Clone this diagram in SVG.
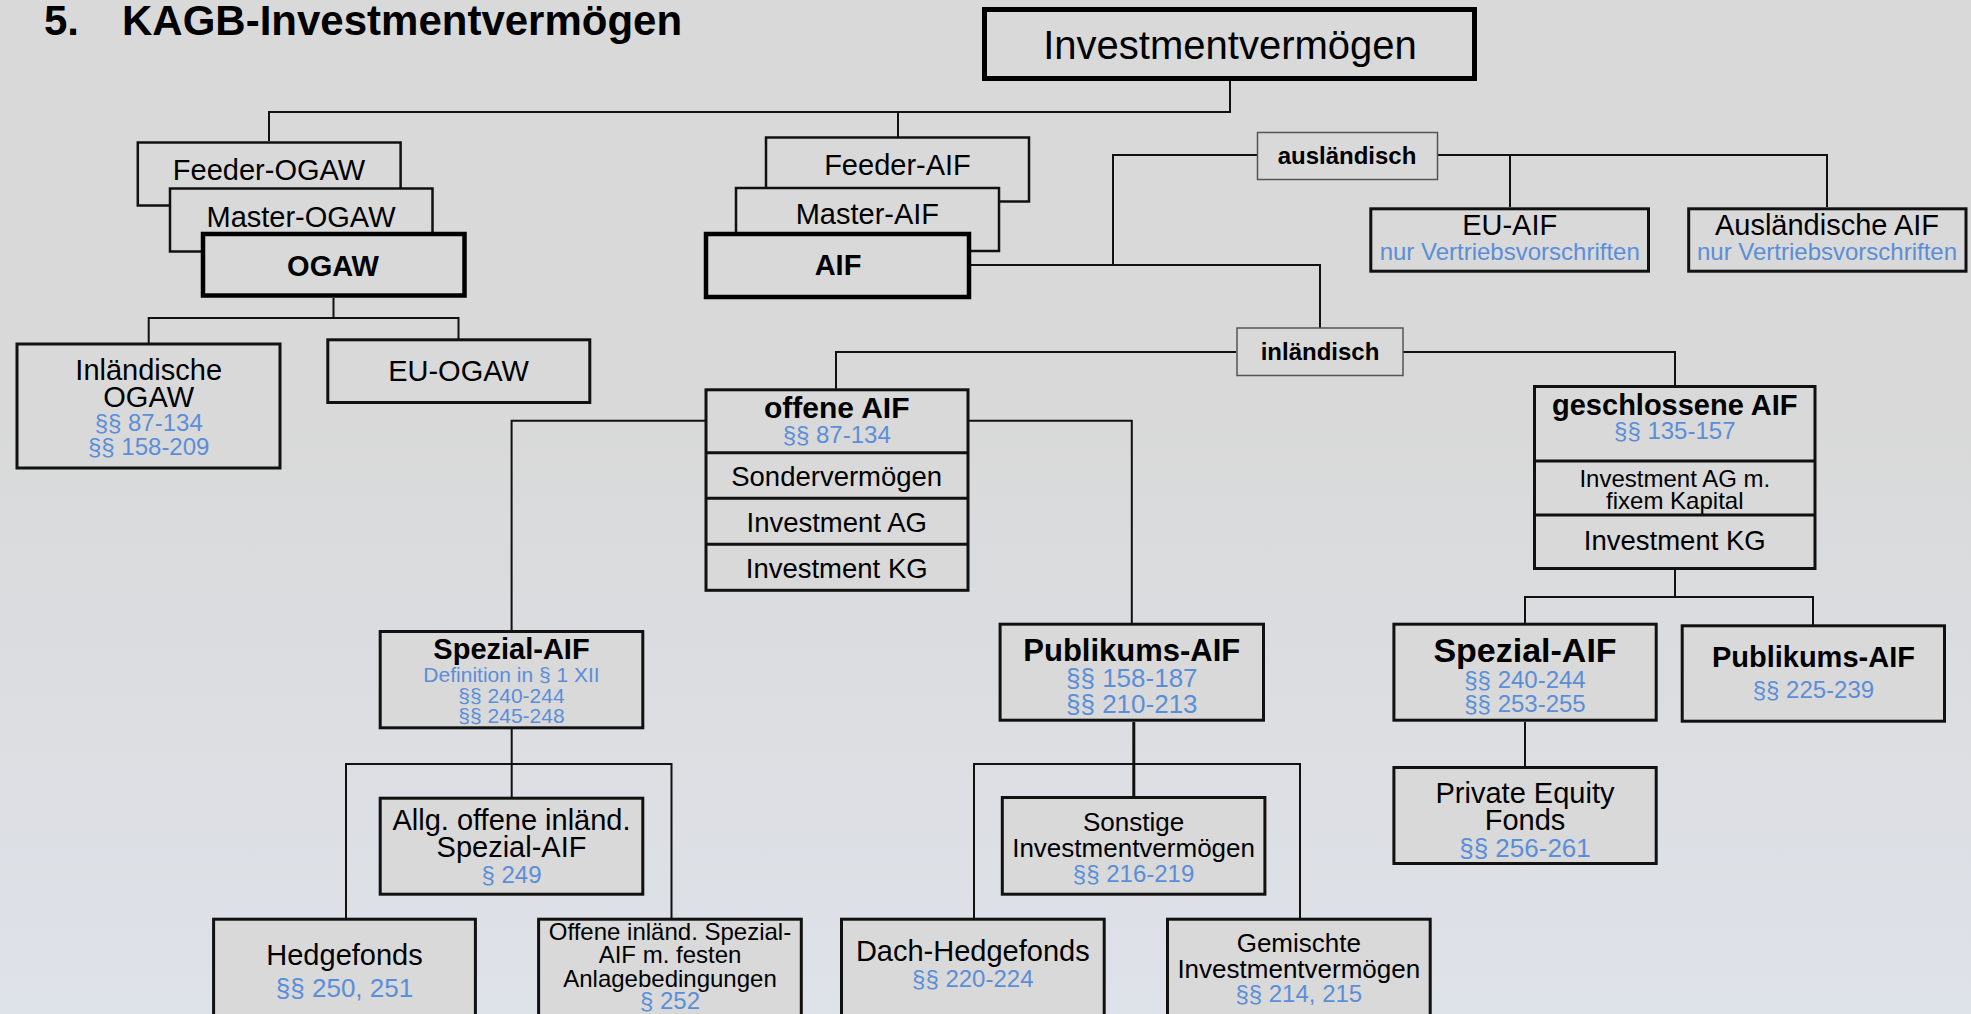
<svg xmlns="http://www.w3.org/2000/svg" width="1971" height="1014" viewBox="0 0 1971 1014">
<defs>
<linearGradient id="bg" x1="0" y1="0" x2="0" y2="1">
<stop offset="0" stop-color="#d9d9d9"/>
<stop offset="0.4" stop-color="#d9d9d9"/>
<stop offset="1" stop-color="#dee2e9"/>
</linearGradient>
<style>
text{font-family:"Liberation Sans",Arial,sans-serif;fill:#000;text-anchor:middle}
.b{font-weight:bold}
.bl{fill:#5b8ed8}
.box{fill:#d9d9d9;stroke:#111;stroke-width:3}
.thin{fill:#d9d9d9;stroke:#111;stroke-width:2.5}
.thick{fill:#d9d9d9;stroke:#000;stroke-width:4.5}
.lab{fill:#d9d9d9;stroke:#555;stroke-width:1.5}
.con path{fill:none;stroke:#111;stroke-width:2}
</style>
</defs>
<rect x="0" y="0" width="1971" height="1014" fill="url(#bg)"/>
<text x="44" y="35" class="b" style="text-anchor:start;font-size:42px">5.</text>
<text x="122" y="35" class="b" style="text-anchor:start;font-size:42px">KAGB-Investmentvermögen</text>

<g id="connectors" class="con">
<path d="M1230,81 V112 H269 V141 M898,112 V137"/>
<path d="M333.5,298 V318 M148.7,343 V318 H458.5 V339"/>
<path d="M971,265 H1320 V328 M1113,265 V155 H1257"/>
<path d="M1438,155 H1827 V207 M1510,155 V207"/>
<path d="M1236,352 H836 V389 M1403,352 H1675 V386"/>
<path d="M705,420.7 H511.6 V631 M969,420.7 H1131.8 V624"/>
<path d="M1675,570 V597 M1525,623 V597 H1813 V625"/>
<path d="M1525,722 V767"/>
<path d="M511.7,729 V798 M346,918 V764 H671.5 V918"/>
<path d="M1133.8,722 V797" style="stroke-width:3"/>
<path d="M974,918 V764 H1300 V918"/>
</g>

<g id="n-investmentvermoegen">
<rect x="984.5" y="9.5" width="490" height="69" class="thick" style="stroke-width:5"/>
<text x="1230" y="59" style="font-size:40px">Investmentvermögen</text>
</g>
<g id="n-feeder-ogaw">
<rect x="137.8" y="142.5" width="262.8" height="63" class="thin"/>
<text x="269" y="180" style="font-size:29px">Feeder-OGAW</text>
</g>
<g id="n-master-ogaw">
<rect x="170" y="188.5" width="262.5" height="63" class="thin"/>
<text x="301" y="227" style="font-size:29px">Master-OGAW</text>
</g>
<g id="n-ogaw">
<rect x="203" y="234" width="261.5" height="61.5" class="thick"/>
<text x="333" y="276" class="b" style="font-size:29px">OGAW</text>
</g>
<g id="n-feeder-aif">
<rect x="766" y="137.5" width="263" height="64" class="thin"/>
<text x="897.5" y="175" style="font-size:29px">Feeder-AIF</text>
</g>
<g id="n-master-aif">
<rect x="736" y="188" width="263" height="63" class="thin"/>
<text x="867.4" y="224" style="font-size:29px">Master-AIF</text>
</g>
<g id="n-aif">
<rect x="706" y="234" width="263" height="63" class="thick"/>
<text x="838" y="275" class="b" style="font-size:29px">AIF</text>
</g>
<g id="n-auslaendisch">
<rect x="1257.5" y="132.5" width="180" height="47" class="lab"/>
<text x="1347" y="164" class="b" style="font-size:24px">ausländisch</text>
</g>
<g id="n-eu-aif">
<rect x="1370.8" y="208.8" width="277.7" height="62.4" class="box"/>
<text x="1509.7" y="235" style="font-size:29px">EU-AIF</text>
<text x="1509.7" y="260" class="bl" style="font-size:24px">nur Vertriebsvorschriften</text>
</g>
<g id="n-auslaendische-aif">
<rect x="1688.7" y="208.8" width="277.3" height="62.4" class="box"/>
<text x="1827" y="235" style="font-size:29px">Ausländische AIF</text>
<text x="1827" y="260" class="bl" style="font-size:24px">nur Vertriebsvorschriften</text>
</g>
<g id="n-inlaendisch">
<rect x="1237" y="328" width="166" height="47.5" class="lab"/>
<text x="1320" y="360" class="b" style="font-size:24px">inländisch</text>
</g>
<g id="n-inlaendische-ogaw">
<rect x="17" y="344" width="263" height="124" class="box"/>
<text x="148.7" y="380" style="font-size:29px">Inländische</text>
<text x="148.7" y="407" style="font-size:29px">OGAW</text>
<text x="148.7" y="431" class="bl" style="font-size:24px">§§ 87-134</text>
<text x="148.7" y="455" class="bl" style="font-size:24px">§§ 158-209</text>
</g>
<g id="n-eu-ogaw">
<rect x="327.8" y="339.8" width="262" height="62.7" class="box"/>
<text x="458.5" y="381" style="font-size:29px">EU-OGAW</text>
</g>
<g id="n-offene-aif">
<rect x="706" y="389.8" width="262" height="200.5" class="box"/>
<path d="M706,452.7 H968 M706,498.3 H968 M706,544.3 H968" stroke="#111" stroke-width="3" fill="none"/>
<text x="836.7" y="417.7" class="b" style="font-size:30px">offene AIF</text>
<text x="836.7" y="443" class="bl" style="font-size:24px">§§ 87-134</text>
<text x="836.7" y="486" style="font-size:27.5px">Sondervermögen</text>
<text x="836.7" y="531.7" style="font-size:27.5px">Investment AG</text>
<text x="836.7" y="577.7" style="font-size:27.5px">Investment KG</text>
</g>
<g id="n-geschlossene-aif">
<rect x="1534.5" y="386.5" width="280.5" height="182" class="box"/>
<path d="M1534.5,461 H1815 M1534.5,515 H1815" stroke="#111" stroke-width="3" fill="none"/>
<text x="1674.8" y="415" class="b" style="font-size:29px">geschlossene AIF</text>
<text x="1674.8" y="439.3" class="bl" style="font-size:24px">§§ 135-157</text>
<text x="1674.8" y="486.7" style="font-size:24px">Investment AG m.</text>
<text x="1674.8" y="509" style="font-size:24px">fixem Kapital</text>
<text x="1674.8" y="550" style="font-size:27.5px">Investment KG</text>
</g>
<g id="n-spezial-aif-offen">
<rect x="380.2" y="631.5" width="262.6" height="96.3" class="box"/>
<text x="511.5" y="659.3" class="b" style="font-size:29px">Spezial-AIF</text>
<text x="511.5" y="681.7" class="bl" style="font-size:21px">Definition in § 1 XII</text>
<text x="511.5" y="702.7" class="bl" style="font-size:21px">§§ 240-244</text>
<text x="511.5" y="722.7" class="bl" style="font-size:21px">§§ 245-248</text>
</g>
<g id="n-publikums-aif-offen">
<rect x="1000.1" y="624.2" width="263.4" height="96" class="box"/>
<text x="1131.8" y="661" class="b" style="font-size:31px">Publikums-AIF</text>
<text x="1131.8" y="687.3" class="bl" style="font-size:26px">§§ 158-187</text>
<text x="1131.8" y="713.3" class="bl" style="font-size:26px">§§ 210-213</text>
</g>
<g id="n-spezial-aif-geschlossen">
<rect x="1393.9" y="624.2" width="262.3" height="96" class="box"/>
<text x="1525" y="661.7" class="b" style="font-size:34px">Spezial-AIF</text>
<text x="1525" y="688.3" class="bl" style="font-size:24px">§§ 240-244</text>
<text x="1525" y="711.7" class="bl" style="font-size:24px">§§ 253-255</text>
</g>
<g id="n-publikums-aif-geschlossen">
<rect x="1682.2" y="625.8" width="262.3" height="95.4" class="box"/>
<text x="1813.4" y="667.3" class="b" style="font-size:29px">Publikums-AIF</text>
<text x="1813.4" y="698.3" class="bl" style="font-size:24px">§§ 225-239</text>
</g>
<g id="n-private-equity">
<rect x="1393.9" y="767.5" width="262.3" height="96" class="box"/>
<text x="1525" y="802.7" style="font-size:29px">Private Equity</text>
<text x="1525" y="830" style="font-size:29px">Fonds</text>
<text x="1525" y="856.7" class="bl" style="font-size:26px">§§ 256-261</text>
</g>
<g id="n-allg-offene">
<rect x="380.2" y="798.2" width="262.6" height="96" class="box"/>
<text x="511.5" y="830" style="font-size:29px">Allg. offene inländ.</text>
<text x="511.5" y="857.3" style="font-size:29px">Spezial-AIF</text>
<text x="511.5" y="883.3" class="bl" style="font-size:24px">§ 249</text>
</g>
<g id="n-sonstige">
<rect x="1002.3" y="797.5" width="262.6" height="96.7" class="box"/>
<text x="1133.6" y="831" style="font-size:26px">Sonstige</text>
<text x="1133.6" y="856.7" style="font-size:26px">Investmentvermögen</text>
<text x="1133.6" y="881.7" class="bl" style="font-size:24px">§§ 216-219</text>
</g>
<g id="n-hedgefonds">
<rect x="213.6" y="919.2" width="261.8" height="120" class="box"/>
<text x="344.5" y="965" style="font-size:29px">Hedgefonds</text>
<text x="344.5" y="996.7" class="bl" style="font-size:26px">§§ 250, 251</text>
</g>
<g id="n-offene-festen">
<rect x="538.6" y="919.2" width="262.7" height="120" class="box"/>
<text x="670" y="940" style="font-size:24px">Offene inländ. Spezial-</text>
<text x="670" y="963.3" style="font-size:24px">AIF m. festen</text>
<text x="670" y="986.7" style="font-size:24px">Anlagebedingungen</text>
<text x="670" y="1009.3" class="bl" style="font-size:24px">§ 252</text>
</g>
<g id="n-dach-hedgefonds">
<rect x="841.5" y="919.2" width="262.7" height="120" class="box"/>
<text x="972.8" y="961" style="font-size:29px">Dach-Hedgefonds</text>
<text x="972.8" y="986.7" class="bl" style="font-size:24px">§§ 220-224</text>
</g>
<g id="n-gemischte">
<rect x="1167.5" y="919.2" width="262.7" height="120" class="box"/>
<text x="1298.8" y="951.7" style="font-size:26px">Gemischte</text>
<text x="1298.8" y="977.7" style="font-size:26px">Investmentvermögen</text>
<text x="1298.8" y="1001.7" class="bl" style="font-size:24px">§§ 214, 215</text>
</g>
</svg>
